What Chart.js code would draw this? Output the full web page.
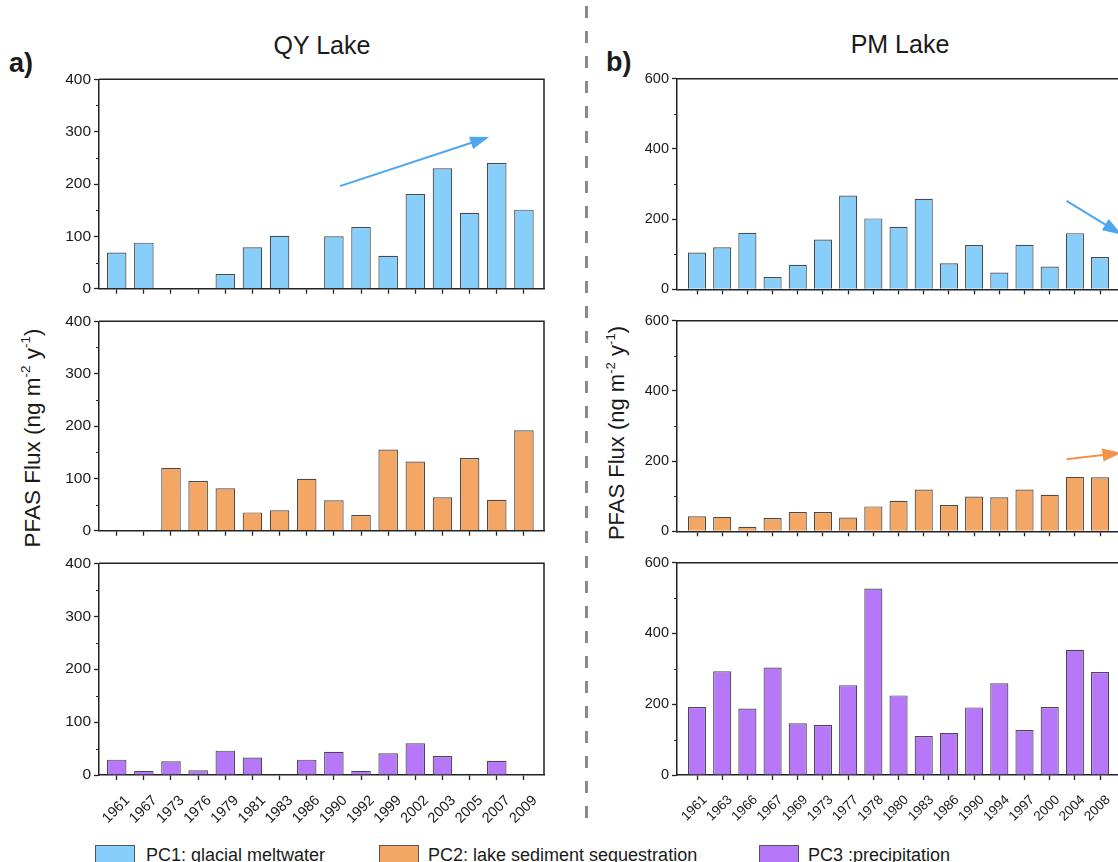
<!DOCTYPE html>
<html>
<head>
<meta charset="utf-8">
<script src="https://cdn.jsdelivr.net/npm/chart.js"></script>
<style>
  html, body { margin: 0; padding: 0; background: #fff; }
  #fig { position: relative; width: 1118px; height: 862px; overflow: hidden; background: #fff;
         font-family: "Liberation Sans", Arial, sans-serif; color: #1a1a1a; }
  #fig canvas { position: absolute; }
  .txt { position: absolute; white-space: nowrap; line-height: 1; }
  .ytitle { position: absolute; white-space: nowrap; line-height: 1; transform: translate(-50%, -50%) rotate(-90deg); }
  .ytitle sup { font-size: 0.6em; vertical-align: 0.7em; line-height: 0; }
  .box { position: absolute; width: 40px; height: 22px; border: 1px solid #555; box-sizing: border-box; }
  #divider { position: absolute; left: 585px; top: 6px; width: 2.5px; height: 812px;
             background: repeating-linear-gradient(to bottom, #8a8a8a 0 12px, transparent 12px 25px); }
</style>
</head>
<body>
<div id="fig">
  <div id="divider"></div>

  <div class="txt" style="left:9px; top:50px; font-size:27px; font-weight:bold;">a)</div>
  <div class="txt" style="left:606px; top:49px; font-size:27px; font-weight:bold;">b)</div>
  <div class="txt" style="left:322px; top:33px; font-size:25px; transform:translateX(-50%);">QY Lake</div>
  <div class="txt" style="left:900px; top:32px; font-size:25px; transform:translateX(-50%);">PM Lake</div>

  <div class="ytitle" style="left:33px; top:438px; font-size:22.5px;">PFAS Flux (ng m<sup>-2</sup> y<sup>-1</sup>)</div>
  <div class="ytitle" style="left:617px; top:433px; font-size:22px;">PFAS Flux (ng m<sup>-2</sup> y<sup>-1</sup>)</div>

  <canvas id="qy1" width="520" height="234" style="left:40px; top:67px;"></canvas>
  <canvas id="qy2" width="520" height="234" style="left:40px; top:309px;"></canvas>
  <canvas id="qy3" width="520" height="294" style="left:40px; top:551px;"></canvas>
  <canvas id="pm1" width="520" height="234" style="left:618px; top:67px;"></canvas>
  <canvas id="pm2" width="520" height="234" style="left:618px; top:309px;"></canvas>
  <canvas id="pm3" width="520" height="294" style="left:618px; top:551px;"></canvas>

  <div class="box" style="left:95px; top:845px; background:#87CEFA;"></div>
  <div class="txt" style="left:146px; top:846px; font-size:18px;">PC1: glacial meltwater</div>
  <div class="box" style="left:379px; top:845px; background:#F4A765;"></div>
  <div class="txt" style="left:428px; top:846px; font-size:18px;">PC2: lake sediment sequestration</div>
  <div class="box" style="left:759px; top:845px; background:#B677F9;"></div>
  <div class="txt" style="left:808px; top:846px; font-size:18px;">PC3 :precipitation</div>
</div>

<script>
// categories
const qyYears = ['1961','1967','1973','1976','1979','1981','1983','1986','1990','1992','1999','2002','2003','2005','2007','2009'];
const pmYears = ['1961','1963','1966','1967','1969','1973','1977','1978','1980','1983','1986','1990','1994','1997','2000','2004','2008'];

// QY Lake fluxes (ng m-2 y-1), null = no bar
const qyPC1 = [69, 88, null, null, 28, 79, 101, null, 100, 118, 63, 181, 230, 145, 240, 151];
const qyPC2 = [null, null, 120, 95, 81, 35, 39, 99, 58, 30, 155, 132, 64, 139, 59, 192];
const qyPC3 = [29, 8, 26, 9, 46, 33, null, 29, 44, 8, 41, 60, 36, null, 27, null];

// PM Lake fluxes
const pmPC1 = [105, 120, 161, 35, 70, 142, 267, 202, 178, 258, 74, 126, 48, 127, 65, 160, 92];
const pmPC2 = [43, 41, 13, 38, 55, 55, 39, 71, 87, 119, 75, 99, 97, 119, 104, 155, 154];
const pmPC3 = [192, 293, 188, 304, 146, 141, 254, 527, 225, 110, 119, 191, 259, 127, 192, 354, 291];

// y axis ranges and major tick steps
const qyYMax = 400, qyYStep = 100;
const pmYMax = 600, pmYStep = 200;

// trend arrows, [category index, flux]
const qyPC1Arrow = { from: [8.22, 196], to: [13.72, 290] };
const pmPC1Arrow = { from: [14.67, 252], to: [16.85, 156] };
const pmPC2Arrow = { from: [14.67, 205], to: [16.85, 224] };

const colPC1 = '#87CEFA', colPC2 = '#F4A765', colPC3 = '#B677F9';
const arrowBlue = '#4EA6EE', arrowOrange = '#F2934B';

Chart.defaults.font.family = '"Liberation Sans", Arial, sans-serif';
Chart.defaults.color = '#1a1a1a';

// draws minor y ticks, the top/right frame and a trend arrow
const framePlugin = {
  id: 'frame',
  afterDraw(chart, args, opts) {
    const { ctx, chartArea: a, scales } = chart;
    const x = scales.x, y = scales.y;
    ctx.save();
    ctx.strokeStyle = '#222';
    ctx.lineWidth = 1;
    for (let v = opts.step / 2; v < opts.max; v += opts.step) {
      const py = Math.round(y.getPixelForValue(v)) + 0.5;
      ctx.beginPath(); ctx.moveTo(a.left - 3, py); ctx.lineTo(a.left, py); ctx.stroke();
    }
    ctx.lineWidth = 1.5;
    ctx.beginPath();
    ctx.moveTo(a.left, a.top); ctx.lineTo(a.right, a.top); ctx.lineTo(a.right, a.bottom);
    ctx.stroke();

    if (opts.arrow) {
      const x0 = x.getPixelForValue(opts.arrow.from[0]), y0 = y.getPixelForValue(opts.arrow.from[1]);
      const x1 = x.getPixelForValue(opts.arrow.to[0]), y1 = y.getPixelForValue(opts.arrow.to[1]);
      const ang = Math.atan2(y1 - y0, x1 - x0);
      const head = 19, half = 6.5;
      const bx = x1 - head * Math.cos(ang), by = y1 - head * Math.sin(ang);
      ctx.strokeStyle = opts.arrowColor;
      ctx.fillStyle = opts.arrowColor;
      ctx.lineWidth = 2;
      ctx.beginPath(); ctx.moveTo(x0, y0); ctx.lineTo(bx + 2 * Math.cos(ang), by + 2 * Math.sin(ang)); ctx.stroke();
      ctx.beginPath();
      ctx.moveTo(x1, y1);
      ctx.lineTo(bx + half * Math.sin(ang), by - half * Math.cos(ang));
      ctx.lineTo(bx - half * Math.sin(ang), by + half * Math.cos(ang));
      ctx.closePath();
      ctx.fill();
    }
    ctx.restore();
  }
};

function makeChart(id, years, values, color, yMax, yStep, xMin, xMax, showLabels, arrow, arrowColor, fontY, fontX, labelShift) {
  const points = values.map((v, i) => ({ x: i, y: v }));
  return new Chart(document.getElementById(id), {
    type: 'bar',
    data: {
      datasets: [{
        data: points,
        backgroundColor: color,
        borderColor: '#4a4a4a',
        borderWidth: 1.2,
        borderSkipped: 'bottom',
        categoryPercentage: 1,
        barPercentage: 0.72
      }]
    },
    options: {
      responsive: false,
      animation: false,
      layout: { padding: { top: 10, right: 16, bottom: 0, left: 0 } },
      plugins: {
        legend: { display: false },
        tooltip: { enabled: false },
        frame: { step: yStep, max: yMax, arrow: arrow, arrowColor: arrowColor }
      },
      scales: {
        x: {
          type: 'linear',
          offset: false,
          min: xMin,
          max: xMax,
          afterBuildTicks: (s) => { s.ticks = years.map((_, i) => ({ value: i })); },
          afterFit: (s) => { s.height = showLabels ? 70 : 10; },
          grid: { display: true, offset: false, drawOnChartArea: false, drawTicks: true, tickLength: 5, tickColor: '#222', tickWidth: 1.3 },
          border: { display: true, color: '#222', width: 1.5 },
          ticks: {
            display: showLabels,
            autoSkip: false,
            minRotation: 45,
            maxRotation: 45,
            padding: 12,
            labelOffset: labelShift,
            font: { size: fontX },
            callback: (v) => years[v]
          }
        },
        y: {
          min: 0,
          max: yMax,
          afterFit: (s) => { s.width = 59; },
          grid: { display: true, drawOnChartArea: false, drawTicks: true, tickLength: 5, tickColor: '#222', tickWidth: 1.3 },
          border: { display: true, color: '#222', width: 1.5 },
          ticks: { stepSize: yStep, padding: 3, font: { size: fontY } }
        }
      }
    },
    plugins: [framePlugin]
  });
}

// QY Lake: plot 99..544 px, ticks 116.7 + 27.15*i
makeChart('qy1', qyYears, qyPC1, colPC1, qyYMax, qyYStep, -0.652, 15.74, false, qyPC1Arrow, arrowBlue, 15.5, 14.5, 11);
makeChart('qy2', qyYears, qyPC2, colPC2, qyYMax, qyYStep, -0.652, 15.74, false, null, null, 15.5, 14.5, 11);
makeChart('qy3', qyYears, qyPC3, colPC3, qyYMax, qyYStep, -0.652, 15.74, true, null, null, 15.5, 14.5, 11);
// PM Lake: plot 677..1122 px (runs past the edge), ticks 697 + 25.2*i
makeChart('pm1', pmYears, pmPC1, colPC1, pmYMax, pmYStep, -0.794, 16.87, false, pmPC1Arrow, arrowBlue, 14.5, 13.5, 8);
makeChart('pm2', pmYears, pmPC2, colPC2, pmYMax, pmYStep, -0.794, 16.87, false, pmPC2Arrow, arrowOrange, 14.5, 13.5, 8);
makeChart('pm3', pmYears, pmPC3, colPC3, pmYMax, pmYStep, -0.794, 16.87, true, null, null, 14.5, 13.5, 8);
</script>
</body>
</html>
